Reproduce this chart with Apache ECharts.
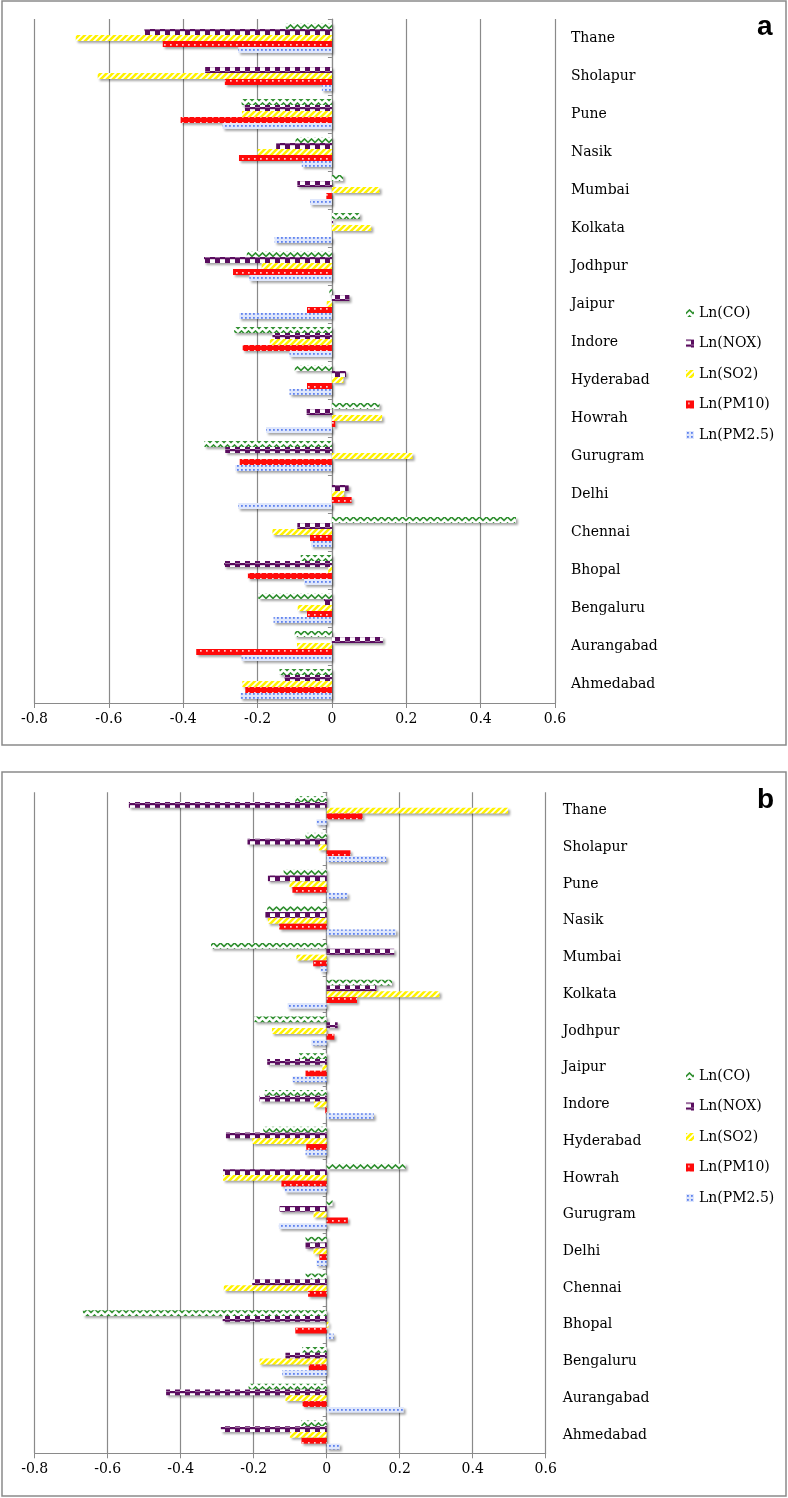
<!DOCTYPE html>
<html>
<head>
<meta charset="utf-8">
<script src="https://cdn.jsdelivr.net/npm/echarts@6/dist/echarts.min.js"></script>
<style>
html,body{margin:0;padding:0;background:#fff;}
#chart{width:788px;height:1498px;}
</style>
</head>
<body>
<div id="chart"></div>
<script>
// Categories (bottom to top)
const cities = ['Ahmedabad','Aurangabad','Bengaluru','Bhopal','Chennai','Delhi','Gurugram','Howrah','Hyderabad','Indore','Jaipur','Jodhpur','Kolkata','Mumbai','Nasik','Pune','Sholapur','Thane'];
const seriesNames = ['Ln(CO)','Ln(NOX)','Ln(SO2)','Ln(PM10)','Ln(PM2.5)'];
const xTicks = [-0.8,-0.6,-0.4,-0.2,0,0.2,0.4,0.6];

// Panel a
const coA   = [-0.141,-0.100,-0.198,-0.084, 0.495, 0.000,-0.343, 0.128,-0.100,-0.263,-0.007,-0.229, 0.075, 0.030,-0.098,-0.243, 0.000,-0.124];
const noxA  = [-0.127, 0.137,-0.021,-0.290,-0.093, 0.045,-0.287,-0.068, 0.038,-0.160, 0.047,-0.344, 0.003,-0.093,-0.150,-0.234,-0.341,-0.504];
const so2A  = [-0.241,-0.094,-0.092,-0.010,-0.160, 0.033, 0.217, 0.135, 0.031,-0.167,-0.014,-0.189, 0.106, 0.128,-0.200,-0.242,-0.630,-0.689];
const pm10A = [-0.233,-0.365,-0.067,-0.226,-0.059, 0.053,-0.248, 0.009,-0.067,-0.240,-0.067,-0.266, 0.000,-0.015,-0.250,-0.407,-0.288,-0.455];
const pm25A = [-0.246,-0.243,-0.157,-0.075,-0.056,-0.252,-0.260,-0.177,-0.114,-0.114,-0.249,-0.222,-0.154,-0.059,-0.081,-0.294,-0.027,-0.252];

// Panel b
const coB   = [-0.070,-0.214,-0.067,-0.668,-0.058,-0.058, 0.016, 0.216,-0.174,-0.170,-0.076,-0.198, 0.179,-0.317,-0.163,-0.118,-0.058,-0.086];
const noxB  = [-0.290,-0.440,-0.113,-0.285,-0.204,-0.058,-0.129,-0.284,-0.276,-0.184,-0.163, 0.030, 0.136, 0.185,-0.168,-0.161,-0.217,-0.542];
const so2B  = [-0.101,-0.113,-0.184, 0.005,-0.282,-0.036,-0.036,-0.284,-0.204,-0.035,-0.012,-0.150, 0.309,-0.083,-0.161,-0.102,-0.022, 0.497];
const pm10B = [-0.069,-0.066,-0.049,-0.086,-0.051,-0.020, 0.058,-0.124,-0.056,-0.004,-0.058, 0.021, 0.083,-0.037,-0.130,-0.094, 0.065, 0.098];
const pm25B = [ 0.036, 0.211,-0.122, 0.019, 0.000,-0.028,-0.131,-0.115,-0.058, 0.129,-0.094,-0.042,-0.107,-0.017, 0.190, 0.057, 0.163,-0.028];

const panelData = [[coA,noxA,so2A,pm10A,pm25A],[coB,noxB,so2B,pm10B,pm25B]];

function tile(w,h,draw){
  const c=document.createElement('canvas'); c.width=w; c.height=h;
  const g=c.getContext('2d'); draw(g); return {image:c, repeat:'repeat'};
}
const patterns = [
  tile(7,6,g=>{g.fillStyle='#fff';g.fillRect(0,0,7,6);g.strokeStyle='#2f8f2f';g.lineWidth=1.6;g.beginPath();g.moveTo(-0.5,5);g.lineTo(3.5,1);g.lineTo(7.5,5);g.stroke();}),
  tile(10,6,g=>{g.fillStyle='#fff';g.fillRect(0,0,10,6);g.fillStyle='#5a0d5f';g.fillRect(0,0,10,1.2);g.fillRect(5,1,5,4.6);g.fillRect(0,5,5,1);}),
  tile(6,6,g=>{g.fillStyle='#fff';g.fillRect(0,0,6,6);g.strokeStyle='#fff200';g.lineWidth=2.6;g.beginPath();g.moveTo(-1,7);g.lineTo(7,-1);g.moveTo(-4,4);g.lineTo(4,-4);g.moveTo(2,10);g.lineTo(10,2);g.stroke();}),
  tile(6,6,g=>{g.fillStyle='#ff0a0a';g.fillRect(0,0,6,6);g.fillStyle='#ffd0d0';g.fillRect(2,2,1.7,1.7);}),
  tile(4,4,g=>{g.fillStyle='#dfe7fc';g.fillRect(0,0,4,4);g.fillStyle='#5f82ee';g.fillRect(1,1,1.8,1.8);})
];

const grids = [
  {left:34.5, top:19, width:520.5, height:684},
  {left:34.7, top:792.3, width:511, height:661}
];
const gray = '#8a8a8a';
const serif = 'DejaVu Serif';

const xAxes = grids.map((g,i)=>({
  type:'value', gridIndex:i, min:-0.8, max:0.6, interval:0.2,
  axisLine:{show:true, onZero:false, lineStyle:{color:gray, width:1.2}},
  axisTick:{show:true, length:5, lineStyle:{color:gray}},
  axisLabel:{color:'#000', fontFamily:serif, fontSize:14, margin:9,
    formatter:v=>{const r=Math.round(v*10)/10; return r===0?'0':String(r);}},
  splitLine:{show:true, lineStyle:{color:gray, width:1.2}}
}));
const yAxes = [];
grids.forEach((g,i)=>{
  yAxes.push({type:'category', gridIndex:i, data:cities, position:'left',
    axisLine:{show:true, onZero:true, lineStyle:{color:gray, width:1.2}},
    axisTick:{show:true, length:4, lineStyle:{color:gray}},
    axisLabel:{show:false}, splitLine:{show:false}});
  yAxes.push({type:'category', gridIndex:i, data:cities, position:'right',
    axisLine:{show:false, onZero:false}, axisTick:{show:false},
    axisLabel:{show:true, color:'#000', fontFamily:serif, fontSize:14, align:'left', margin:i===0?16:17},
    splitLine:{show:false}});
});

const series = [];
panelData.forEach((arrs,p)=>{
  arrs.forEach((arr,k)=>{
    series.push({
      type:'bar', name:seriesNames[k], xAxisIndex:p, yAxisIndex:2*p, data:arr,
      barGap:'0%', barCategoryGap:'21%', animation:false,
      itemStyle:{color:patterns[k], shadowColor:'rgba(0,0,0,0.35)', shadowBlur:2, shadowOffsetX:2, shadowOffsetY:2}
    });
  });
});

const legendCommon = {
  orient:'vertical', left:681, itemWidth:8, itemHeight:8, itemGap:14.5, icon:'rect',
  data:seriesNames, selectedMode:false,
  textStyle:{fontFamily:serif, fontSize:14, color:'#000', lineHeight:16},
  itemStyle:{shadowBlur:0, shadowOffsetX:0, shadowOffsetY:0, shadowColor:'rgba(0,0,0,0)', borderWidth:0}
};

const chart = echarts.init(document.getElementById('chart'), null, {renderer:'canvas'});
chart.setOption({
  animation:false,
  backgroundColor:'#fff',
  grid:grids,
  xAxis:xAxes,
  yAxis:yAxes,
  legend:[Object.assign({top:300}, legendCommon), Object.assign({top:1063}, legendCommon)],
  series:series,
  graphic:[
    {type:'rect', shape:{x:2, y:1, width:784, height:744}, style:{fill:'none', stroke:gray, lineWidth:1.5}, silent:true},
    {type:'rect', shape:{x:2, y:772, width:784, height:724}, style:{fill:'none', stroke:gray, lineWidth:1.5}, silent:true},
    {type:'text', x:757, y:13, style:{text:'a', font:'bold 28px "Liberation Sans", Arial, sans-serif', fill:'#000'}},
    {type:'text', x:757, y:786, style:{text:'b', font:'bold 28px "Liberation Sans", Arial, sans-serif', fill:'#000'}}
  ]
});
</script>
</body>
</html>
